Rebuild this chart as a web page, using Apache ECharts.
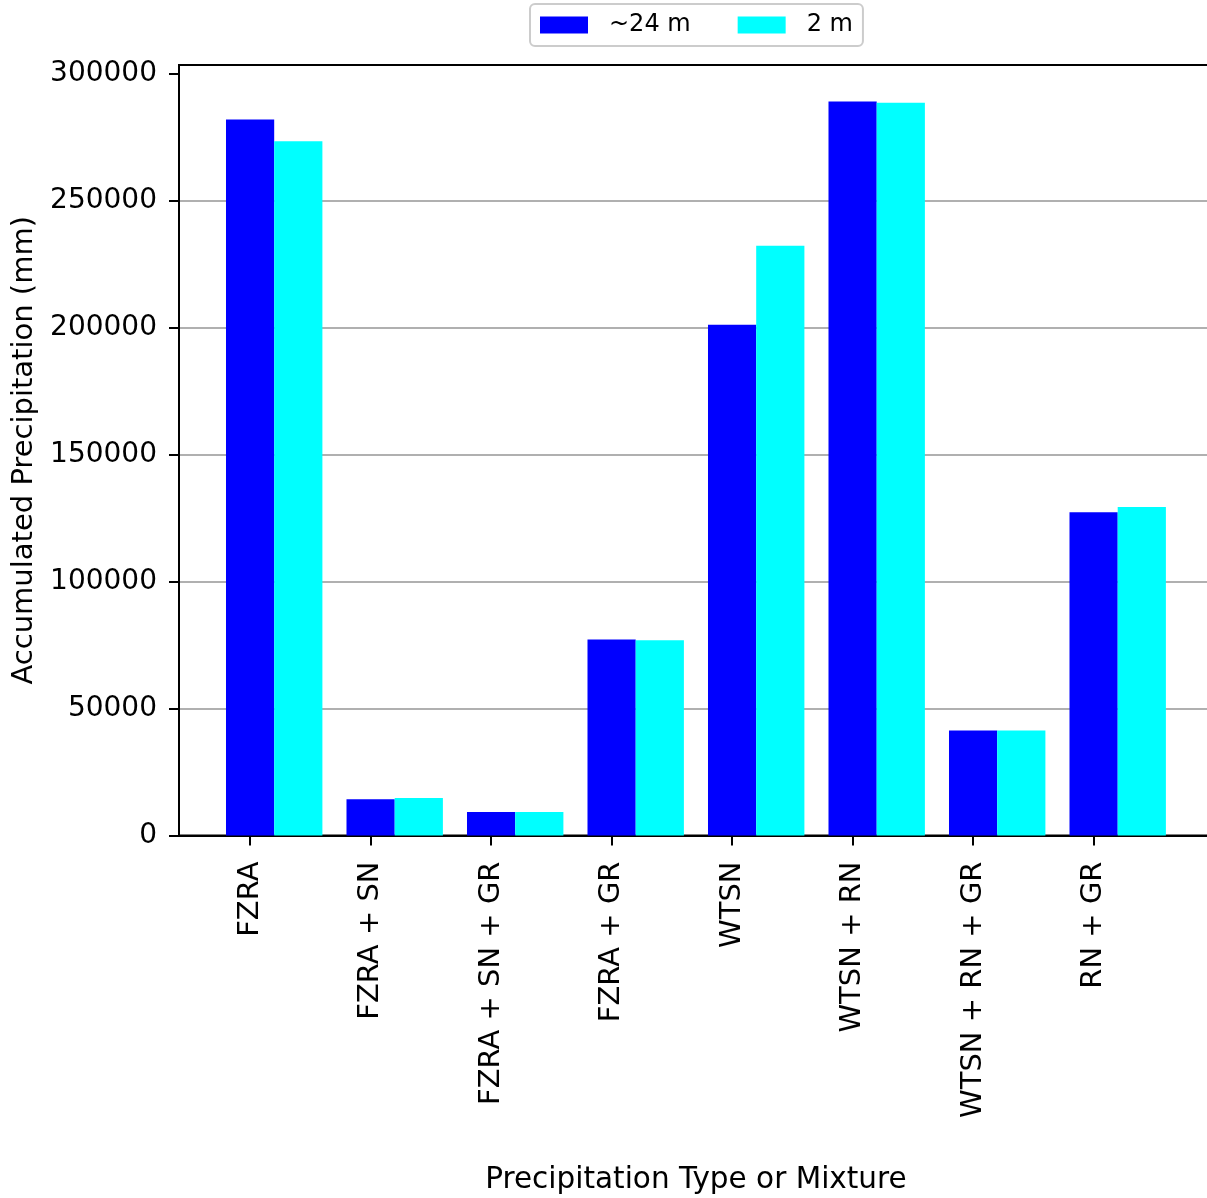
<!DOCTYPE html>
<html>
<head>
<meta charset="utf-8">
<title>Accumulated Precipitation by Type</title>
<script src="https://cdn.jsdelivr.net/npm/echarts@6/dist/echarts.min.js"></script>
<style>
  html, body { margin: 0; padding: 0; background: #fff; }
  #chart { width: 1207px; height: 1198px; }
</style>
</head>
<body>
<div id="chart"></div>
<script>
// Precipitation types / mixtures along the x axis
const categories = [
  'FZRA', 'FZRA + SN', 'FZRA + SN + GR', 'FZRA + GR',
  'WTSN', 'WTSN + RN', 'WTSN + RN + GR', 'RN + GR'
];

// Accumulated precipitation (mm) for each sensor height
const seriesNames = ['~24 m', '2 m'];
const values24m = [281900, 14300, 9300, 77200, 201100, 289000, 41300, 127300];
const values2m  = [273400, 14800, 9300, 76900, 232200, 288500, 41300, 129400];

// y-axis tick values
const yTicks = [0, 50000, 100000, 150000, 200000, 250000, 300000];

// Bars sit at category index (first series) and index + BAR_W (second series),
// so the tick marks line up with the first series' bars.
const BAR_W = 0.4;
const xIndex = categories.map((_, i) => i);

const FONT = 'DejaVu Sans';
const chart = echarts.init(document.getElementById('chart'), null, { renderer: 'canvas' });

const xMin = -0.59, xMax = 7.99;
const gridLeft = 179, gridTop = 65, gridBottom = 1198 - 835.5;
const unitPx = 120.5;

chart.setOption({
  animation: false,
  backgroundColor: '#ffffff',
  textStyle: { fontFamily: FONT },
  legend: {
    top: 4,
    left: 530,
    itemWidth: 48,
    itemHeight: 17,
    itemGap: 47,
    padding: [9, 10, 9, 10],
    borderColor: '#cccccc',
    borderWidth: 2,
    borderRadius: 5,
    icon: 'rect',
    textStyle: { fontFamily: FONT, fontSize: 24, color: '#000', padding: [0, 0, 0, 16] },
    data: seriesNames
  },
  grid: {
    left: gridLeft,
    top: gridTop,
    width: (xMax - xMin) * unitPx,
    bottom: gridBottom,
    outerBoundsMode: 'none',
    containLabel: false,
    show: true,
    borderColor: '#000',
    borderWidth: 2,
    backgroundColor: 'transparent'
  },
  xAxis: {
    type: 'value',
    min: xMin,
    max: xMax,
    name: 'Precipitation Type or Mixture',
    nameLocation: 'middle',
    nameGap: 330,
    nameTextStyle: { fontFamily: FONT, fontSize: 29.5, color: '#000' },
    splitLine: { show: false },
    axisLine: { show: true, onZero: false, lineStyle: { color: '#000', width: 2 } },
    axisTick: {
      show: true, length: 10, customValues: xIndex,
      lineStyle: { color: '#000', width: 2 }
    },
    axisLabel: {
      show: true,
      customValues: xIndex,
      rotate: 90,
      margin: 26,
      fontFamily: FONT,
      fontSize: 29,
      color: '#000',
      formatter: v => categories[Math.round(v)] || ''
    }
  },
  yAxis: {
    type: 'value',
    min: 0,
    max: 303400,
    interval: 50000,
    name: 'Accumulated Precipitation (mm)',
    nameLocation: 'middle',
    nameGap: 140,
    nameTextStyle: { fontFamily: FONT, fontSize: 29, color: '#000' },
    axisLine: { show: true, onZero: false, lineStyle: { color: '#000', width: 2 } },
    axisTick: {
      show: true, length: 10, customValues: yTicks,
      lineStyle: { color: '#000', width: 2 }
    },
    axisLabel: {
      customValues: yTicks,
      margin: 22,
      fontFamily: FONT,
      fontSize: 28,
      color: '#000',
      formatter: v => String(v)
    },
    splitLine: {
      show: true,
      showMinLine: false,
      showMaxLine: false,
      lineStyle: { color: '#b0b0b0', width: 2 }
    }
  },
  series: [
    {
      name: seriesNames[0],
      type: 'bar',
      barWidth: BAR_W * unitPx,
      itemStyle: { color: '#0000ff' },
      data: values24m.map((v, i) => [xIndex[i], v]),
      z: 3
    },
    {
      name: seriesNames[1],
      type: 'bar',
      barWidth: BAR_W * unitPx,
      barGap: '-100%',
      itemStyle: { color: '#00ffff' },
      data: values2m.map((v, i) => [xIndex[i] + BAR_W, v]),
      z: 3
    }
  ]
});
</script>
</body>
</html>
